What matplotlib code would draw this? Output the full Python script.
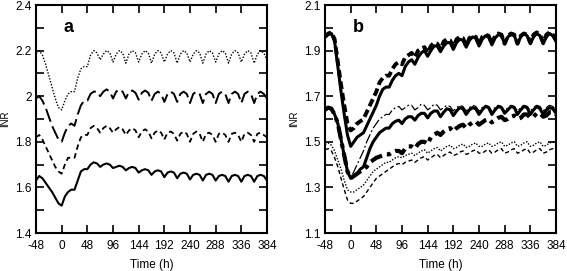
import numpy as np
import matplotlib
matplotlib.use("Agg")
import matplotlib.pyplot as plt
from matplotlib.ticker import MultipleLocator

plt.rcParams['font.family'] = ['Liberation Sans', 'DejaVu Sans']

# time grid (h), 6-hour samples from -48 to 384
time_h = np.arange(-48, 385, 6)
xticks = [-48, 0, 48, 96, 144, 192, 240, 288, 336, 384]

# ---- panel a ----
a_dotted = [2.19, 2.20, 2.18, 2.14, 2.09, 2.04, 1.99, 1.95, 1.94,
            1.98, 2.01, 2.02, 2.02, 2.08, 2.12, 2.13, 2.13, 2.18, 2.20, 2.19, 2.16,
            2.185, 2.20, 2.19, 2.15, 2.185, 2.20, 2.19, 2.145,
            2.185, 2.20, 2.19, 2.15, 2.185, 2.20, 2.19, 2.145,
            2.185, 2.20, 2.19, 2.15, 2.185, 2.20, 2.19, 2.145,
            2.185, 2.20, 2.19, 2.15, 2.185, 2.20, 2.19, 2.145,
            2.185, 2.20, 2.19, 2.15, 2.185, 2.20, 2.19, 2.145,
            2.185, 2.20, 2.19, 2.15, 2.185, 2.20, 2.19, 2.145,
            2.185, 2.20, 2.19, 2.16]
a_longdash = [1.99, 2.00, 1.98, 1.95, 1.91, 1.87, 1.84, 1.81, 1.80,
              1.84, 1.87, 1.88, 1.87, 1.92, 1.96, 1.98, 1.98, 2.01, 2.02, 2.02, 2.00,
              2.02, 2.03, 2.02, 1.99, 2.02, 2.03, 2.02, 1.99,
              2.02, 2.025, 2.015, 1.985, 2.015, 2.025, 2.015, 1.98,
              2.01, 2.02, 2.01, 1.975, 2.01, 2.02, 2.01, 1.975,
              2.01, 2.02, 2.01, 1.97, 2.01, 2.02, 2.01, 1.97,
              2.01, 2.02, 2.01, 1.97, 2.01, 2.02, 2.01, 1.97,
              2.01, 2.02, 2.01, 1.97, 2.01, 2.02, 2.01, 1.97,
              2.01, 2.02, 2.01, 1.99]
a_shortdash = [1.82, 1.83, 1.81, 1.78, 1.75, 1.72, 1.69, 1.67, 1.66,
               1.70, 1.73, 1.73, 1.73, 1.78, 1.82, 1.83, 1.83, 1.86, 1.87, 1.86, 1.84,
               1.86, 1.87, 1.86, 1.84, 1.855, 1.865, 1.855, 1.83,
               1.85, 1.86, 1.85, 1.82, 1.845, 1.855, 1.845, 1.815,
               1.84, 1.85, 1.84, 1.81, 1.84, 1.845, 1.835, 1.805,
               1.835, 1.845, 1.835, 1.80, 1.835, 1.845, 1.835, 1.80,
               1.835, 1.84, 1.83, 1.80, 1.835, 1.84, 1.83, 1.80,
               1.835, 1.84, 1.83, 1.80, 1.835, 1.84, 1.83, 1.80,
               1.835, 1.84, 1.83, 1.82]
a_solid = [1.63, 1.65, 1.64, 1.62, 1.60, 1.58, 1.555, 1.53, 1.52,
           1.56, 1.58, 1.59, 1.59, 1.63, 1.67, 1.68, 1.68, 1.70, 1.71, 1.705, 1.69,
           1.70, 1.705, 1.70, 1.685, 1.69, 1.695, 1.69, 1.675,
           1.685, 1.69, 1.685, 1.665, 1.675, 1.68, 1.675, 1.655,
           1.67, 1.675, 1.67, 1.645, 1.665, 1.67, 1.665, 1.64,
           1.66, 1.665, 1.66, 1.635, 1.655, 1.66, 1.655, 1.63,
           1.655, 1.66, 1.655, 1.63, 1.65, 1.655, 1.65, 1.625,
           1.65, 1.655, 1.65, 1.625, 1.65, 1.655, 1.65, 1.625,
           1.65, 1.655, 1.65, 1.63]

# ---- panel b ----
b_top_dash = [1.96, 1.975, 1.98, 1.95, 1.85, 1.75, 1.66, 1.58, 1.55,
              1.56, 1.58, 1.59, 1.60, 1.63, 1.66, 1.69, 1.72, 1.76, 1.78, 1.79, 1.79,
              1.82, 1.84, 1.85, 1.84, 1.87, 1.88, 1.89, 1.87,
              1.90, 1.91, 1.915, 1.89, 1.92, 1.935, 1.93, 1.905,
              1.94, 1.95, 1.945, 1.915, 1.95, 1.96, 1.955, 1.92,
              1.955, 1.965, 1.96, 1.925, 1.96, 1.97, 1.965, 1.93,
              1.965, 1.975, 1.97, 1.93, 1.965, 1.975, 1.97, 1.93,
              1.965, 1.975, 1.97, 1.935, 1.97, 1.98, 1.97, 1.935,
              1.97, 1.98, 1.97, 1.95]
b_top_solid = [1.96, 1.97, 1.975, 1.94, 1.83, 1.72, 1.62, 1.53, 1.48,
               1.50, 1.52, 1.53, 1.54, 1.57, 1.60, 1.63, 1.66, 1.70, 1.73, 1.74, 1.74,
               1.77, 1.79, 1.80, 1.79, 1.83, 1.85, 1.86, 1.84,
               1.87, 1.89, 1.90, 1.875, 1.90, 1.92, 1.92, 1.895,
               1.92, 1.935, 1.935, 1.905, 1.935, 1.95, 1.945, 1.915,
               1.945, 1.96, 1.955, 1.92, 1.95, 1.965, 1.96, 1.925,
               1.955, 1.97, 1.965, 1.93, 1.96, 1.97, 1.965, 1.93,
               1.96, 1.975, 1.965, 1.93, 1.96, 1.975, 1.965, 1.93,
               1.96, 1.975, 1.965, 1.94]
b_mid_solid = [1.64, 1.65, 1.645, 1.62, 1.58, 1.51, 1.44, 1.37, 1.34,
               1.35, 1.36, 1.38, 1.39, 1.43, 1.47, 1.50, 1.52, 1.54, 1.55, 1.56, 1.56,
               1.58, 1.59, 1.595, 1.58, 1.60, 1.61, 1.61, 1.595,
               1.615, 1.625, 1.625, 1.605, 1.625, 1.635, 1.635, 1.61,
               1.63, 1.645, 1.64, 1.615, 1.635, 1.65, 1.645, 1.62,
               1.64, 1.65, 1.645, 1.62, 1.64, 1.655, 1.65, 1.62,
               1.64, 1.655, 1.65, 1.625, 1.64, 1.655, 1.65, 1.62,
               1.64, 1.655, 1.65, 1.62, 1.64, 1.655, 1.645, 1.62,
               1.64, 1.65, 1.645, 1.625]
b_mid_thin = [1.64, 1.65, 1.645, 1.62, 1.58, 1.51, 1.44, 1.37, 1.34,
              1.37, 1.40, 1.43, 1.46, 1.50, 1.53, 1.56, 1.58, 1.60, 1.61, 1.62, 1.62,
              1.64, 1.65, 1.655, 1.64, 1.65, 1.66, 1.66, 1.64,
              1.65, 1.665, 1.66, 1.64, 1.65, 1.665, 1.66, 1.64,
              1.65, 1.66, 1.655, 1.635, 1.65, 1.66, 1.655, 1.635,
              1.65, 1.66, 1.655, 1.635, 1.65, 1.66, 1.655, 1.635,
              1.65, 1.66, 1.655, 1.635, 1.65, 1.66, 1.655, 1.635,
              1.65, 1.66, 1.655, 1.635, 1.65, 1.66, 1.655, 1.635,
              1.65, 1.66, 1.655, 1.64]
b_mid_dashdot = [1.64, 1.65, 1.645, 1.62, 1.58, 1.51, 1.44, 1.37, 1.34,
                 1.35, 1.36, 1.37, 1.38, 1.39, 1.41, 1.42, 1.43, 1.435, 1.44, 1.445, 1.445,
                 1.455, 1.46, 1.46, 1.45, 1.47, 1.48, 1.48, 1.47,
                 1.49, 1.50, 1.50, 1.49, 1.52, 1.53, 1.54, 1.53,
                 1.545, 1.555, 1.56, 1.545, 1.56, 1.57, 1.575, 1.56,
                 1.575, 1.585, 1.59, 1.575, 1.585, 1.595, 1.60, 1.585,
                 1.595, 1.605, 1.61, 1.595, 1.60, 1.61, 1.615, 1.60,
                 1.605, 1.62, 1.62, 1.605, 1.61, 1.625, 1.625, 1.61,
                 1.615, 1.63, 1.63, 1.62]
b_low_dotted = [1.49, 1.495, 1.485, 1.46, 1.42, 1.38, 1.33, 1.29, 1.28,
                1.28, 1.29, 1.30, 1.31, 1.33, 1.35, 1.37, 1.38, 1.39, 1.40, 1.41, 1.41,
                1.42, 1.43, 1.435, 1.43, 1.44, 1.445, 1.45, 1.44,
                1.45, 1.46, 1.465, 1.45, 1.46, 1.47, 1.475, 1.46,
                1.47, 1.48, 1.485, 1.47, 1.475, 1.485, 1.49, 1.475,
                1.48, 1.49, 1.495, 1.48, 1.48, 1.49, 1.495, 1.48,
                1.485, 1.495, 1.50, 1.48, 1.485, 1.495, 1.50, 1.48,
                1.485, 1.495, 1.50, 1.48, 1.485, 1.495, 1.50, 1.48,
                1.485, 1.495, 1.50, 1.49]
b_low_dashed = [1.465, 1.47, 1.46, 1.43, 1.39, 1.34, 1.29, 1.245, 1.23,
                1.23, 1.24, 1.25, 1.26, 1.28, 1.30, 1.32, 1.34, 1.35, 1.36, 1.37, 1.38,
                1.39, 1.40, 1.405, 1.40, 1.41, 1.415, 1.42, 1.41,
                1.42, 1.43, 1.435, 1.42, 1.43, 1.44, 1.445, 1.43,
                1.44, 1.45, 1.455, 1.44, 1.445, 1.455, 1.46, 1.445,
                1.45, 1.46, 1.465, 1.45, 1.45, 1.46, 1.465, 1.45,
                1.455, 1.465, 1.47, 1.45, 1.455, 1.465, 1.47, 1.45,
                1.455, 1.465, 1.47, 1.45, 1.455, 1.465, 1.47, 1.45,
                1.455, 1.465, 1.47, 1.46]

fig = plt.figure(figsize=(5.67, 2.71), dpi=100)
axA = fig.add_axes([36/567, 1-233/271, 231/567, 228/271])
axB = fig.add_axes([325/567, 1-233/271, 231/567, 228/271])

k = 'black'
axA.plot(time_h, a_dotted, color=k, lw=1.0, linestyle=(0, (1, 1.2)))
axA.plot(time_h, a_longdash, color=k, lw=1.4, linestyle=(0, (7, 2.5)))
axA.plot(time_h, a_shortdash, color=k, lw=1.3, linestyle=(0, (3, 2)))
axA.plot(time_h, a_solid, color=k, lw=1.5, linestyle='-')

axB.plot(time_h, b_low_dashed, color=k, lw=1.0, linestyle=(0, (3, 2)))
axB.plot(time_h, b_low_dotted, color=k, lw=1.0, linestyle=(0, (1, 1.2)))
axB.plot(time_h, b_mid_thin, color=k, lw=0.9, linestyle=(0, (8, 2, 1.5, 2)))
axB.plot(time_h, b_mid_dashdot, color=k, lw=3.0, linestyle=(0, (3, 1.2, 1, 1.2)))
axB.plot(time_h, b_mid_solid, color=k, lw=2.2, linestyle='-')
axB.plot(time_h, b_top_solid, color=k, lw=2.2, linestyle='-')
axB.plot(time_h, b_top_dash, color=k, lw=2.8, linestyle=(0, (2, 1)))

for ax, ylim, ymaj, letter in [
        (axA, (1.4, 2.4), [1.4, 1.6, 1.8, 2.0, 2.2, 2.4], 'a'),
        (axB, (1.1, 2.1), [1.1, 1.3, 1.5, 1.7, 1.9, 2.1], 'b')]:
    ax.set_xlim(-48, 384)
    ax.set_ylim(*ylim)
    ax.set_xticks(xticks)
    ax.set_xticklabels([str(v) for v in xticks])
    ax.set_yticks(ymaj)
    if ax is axA:
        ax.set_yticklabels(['1.4', '1.6', '1.8', '2', '2.2', '2.4'])
    else:
        ax.set_yticklabels(['1.1', '1.3', '1.5', '1.7', '1.9', '2.1'])
    ax.yaxis.set_minor_locator(MultipleLocator(0.1))
    ax.tick_params(which='both', direction='in', top=True, right=True,
                   labelsize=8.5, width=1.2)
    ax.tick_params(axis='x', pad=5)
    ax.tick_params(axis='y', pad=3)
    ax.tick_params(which='major', length=6)
    ax.tick_params(which='minor', length=6)
    for s in ax.spines.values():
        s.set_linewidth(1.5)
    ax.set_xlabel('Time (h)', fontsize=8.5, labelpad=5)
    ax.set_ylabel('INR', fontsize=7, labelpad=4)
    ax.text(0.12, 0.90, letter, transform=ax.transAxes, fontsize=13,
            fontweight='bold', va='center', ha='left')

fig.savefig('out.png', dpi=100)
